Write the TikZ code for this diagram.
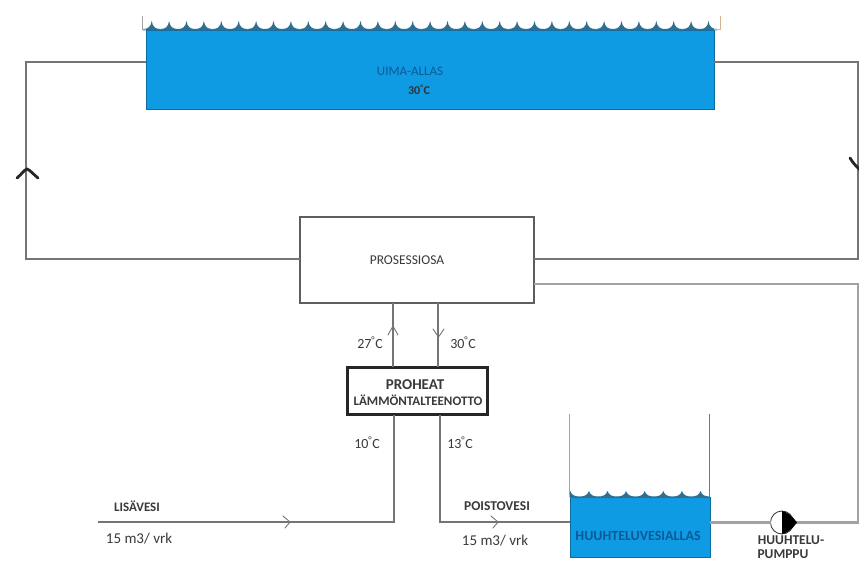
\documentclass[tikz,border=0pt]{standalone}
\usepackage{fontspec}
\setmainfont{Carlito}
\definecolor{wat}{HTML}{0E9BE4}
\definecolor{txt}{HTML}{3A3A3A}
\definecolor{pipe}{HTML}{757575}
\definecolor{pipeb}{HTML}{A2A2A2}
\definecolor{bltxt}{HTML}{0B5A96}
\definecolor{wavec}{HTML}{2F6F93}
\tikzset{
  x=1pt,y=-1pt,
  pipeline/.style={draw=pipe,line width=1.2pt,line join=miter},
  pipelight/.style={draw=pipeb,line width=2.4pt,line join=miter},
  lbl/.style={font=\fontsize{14}{15}\selectfont,text=txt,inner sep=0pt},
  lblb/.style={font=\fontsize{13}{14}\selectfont\bfseries,text=txt,inner sep=0pt},
  chevthin/.style={draw=pipe,line width=0.9pt,line cap=round},
  chevthick/.style={draw=black!85,line width=2.8pt,line cap=round},
  poolbox/.style={fill=wat,draw=wat!70!black,line width=0.7pt,inner sep=0pt,outer sep=0pt},
  plainbox/.style={draw=pipe!80!black,line width=1.2pt,fill=white,inner sep=0pt,outer sep=0pt},
}
\begin{document}
\begin{tikzpicture}
\useasboundingbox (0,0) rectangle (859,561);
\clip (0,0) rectangle (859,561);
\fill[white] (0,0) rectangle (859,561);

% swimming pool
\node[poolbox,anchor=north west,minimum width=568pt,minimum height=79pt] (pool) at (146,30) {};
\node[lbl,font=\fontsize{13}{14}\selectfont,text=bltxt] (pooltext) at (410,71) {UIMA-ALLAS};
\node[lblb,font=\fontsize{12}{13}\selectfont\bfseries,text=black!80] (pooltemp) at (419,90) {30\textsuperscript{°}C};
\foreach \i in {0,...,32}{
  \pgfmathsetmacro{\xa}{143+\i*17.4}
  \pgfmathsetmacro{\xb}{\xa+17.4}
  \fill[wavec] (\xa,30.5) -- (\xa,29) .. controls (\xa+5,29) and (\xa+7.8,27) .. (\xa+8.7,21)
     .. controls (\xa+9.6,27) and (\xb-5,29) .. (\xb,29) -- (\xb,30.5) -- cycle;
}
\draw[draw=pipeb,line width=1pt] (142,16) -- (142,30) -- (146,30);
\draw[draw=brown!60,line width=1pt] (720,16) -- (720,30) -- (714,30);

% process part
\node[plainbox,anchor=north west,minimum width=234pt,minimum height=86pt,font=\fontsize{13.5}{14}\selectfont,text=txt] (proc) at (300,217) {\hspace*{-20pt}PROSESSIOSA};

% heat recovery
\node[draw=black!85,line width=3pt,fill=white,anchor=north west,minimum width=140pt,minimum height=47pt,inner sep=0pt,outer sep=0pt] (heat) at (347.5,367.5) {};
\node[font=\fontsize{15}{16}\selectfont\bfseries,text=txt,inner sep=0pt] (heatA) at (415,385) {PROHEAT};
\node[font=\fontsize{13}{14}\selectfont\bfseries,text=txt,inner sep=0pt] (heatB) at (418,400) {LÄMMÖNTALTEENOTTO};

% rinse basin
\node[poolbox,anchor=north west,minimum width=139.5pt,minimum height=60pt] (basin) at (570.5,497) {};
\foreach \i in {0,...,7}{
  \pgfmathsetmacro{\xa}{570+\i*18.6-9}
  \pgfmathsetmacro{\xb}{\xa+18.6}
  \begin{scope}
  \clip (570,480) rectangle (710,500);
  \fill[wavec] (\xa,498) -- (\xa,496.5) .. controls (\xa+5,496.5) and (\xa+8,495) .. (\xa+9.3,491)
     .. controls (\xa+10.6,495) and (\xb-5,496.5) .. (\xb,496.5) -- (\xb,498) -- cycle;
  \end{scope}
}
\coordinate (wallL) at (569.5,414);
\coordinate (wallR) at (709.5,414);
\coordinate (wallLb) at (569.5,497);
\coordinate (wallRb) at (709.5,497);
\draw[draw=pipeb,line width=1.5pt] (wallL) -- (wallLb);
\draw[draw=pipe,line width=1.5pt] (wallR) -- (wallRb);
\node[font=\fontsize{14}{15}\selectfont\bfseries,text=bltxt,inner sep=0pt] (basintext) at (638,536) {HUUHTELUVESIALLAS};

% pump
\node[circle,draw=black!80,fill=white,line width=0.8pt,minimum size=23pt,inner sep=0pt,outer sep=0pt] (pump) at (782,522.5) {};

% named ends of the connectors
\coordinate (poolL) at (146,62);
\coordinate (poolR) at (714,62);
\coordinate (loopLt) at (26,62);
\coordinate (loopLb) at (26,259);
\coordinate (loopRt) at (858,62);
\coordinate (loopRb) at (858,259);
\coordinate (procW) at (300,259);
\coordinate (procE) at (534,259);
\coordinate (procE2) at (534,284);
\coordinate (rinseTop) at (858,284);
\coordinate (rinseBot) at (858,522.5);
\coordinate (basinR) at (709.5,522.5);
\coordinate (basinL) at (570,522);
\coordinate (procA) at (393,303);
\coordinate (heatA1) at (393,367);
\coordinate (procB) at (438,303);
\coordinate (heatB1) at (438,367);
\coordinate (heatA2) at (394,415);
\coordinate (heatB2) at (440,415);
\coordinate (cornerA) at (394,522);
\coordinate (cornerB) at (440,522);
\coordinate (inlet) at (98,522);

% connectors
\draw[pipeline] (poolL) -- (loopLt) -- (loopLb) -- (procW);
\draw[pipeline] (poolR) -- (loopRt) -- (loopRb) -- (procE);
\draw[pipelight] (procE2) -- (rinseTop) -- (rinseBot) -- (pump.east);
\draw[pipelight] (pump.west) -- (basinR);
\draw[pipeline] (procA) -- (heatA1);
\draw[pipeline] (procB) -- (heatB1);
\draw[pipeline] (heatA2) -- (cornerA) -- (inlet);
\draw[pipeline] (heatB2) -- (cornerB) -- (basinL);

% pump impeller (over the pipe)
\fill[black] (782,511) .. controls (788,512) and (792,516) .. (797,522.5) .. controls (792,529) and (788,533) .. (782,534) -- cycle;

% direction marks
\draw[chevthick] (17,178) .. controls (22,174) and (24,170) .. (27,169) .. controls (30,170) and (33,174) .. (38,178);
\draw[chevthick] (850,158) .. controls (853,163) and (856,166) .. (860,170);
\draw[chevthin] (388,335) -- (393,326) -- (398,335);
\draw[chevthin] (433,329) -- (438.5,337) -- (444,329);
\draw[chevthin] (283,516) -- (290,522) -- (285,528);
\draw[chevthin] (491,516) -- (498,522) -- (493,528);

% labels
\node[lbl] (t27) at (370,343) {27\textsuperscript{°}C};
\node[lbl] (t30) at (463,343) {30\textsuperscript{°}C};
\node[lbl] (t10) at (367,443) {10\textsuperscript{°}C};
\node[lbl] (t13) at (460,443) {13\textsuperscript{°}C};
\node[lblb] (lis) at (137,506) {LISÄVESI};
\node[lbl,font=\fontsize{15}{16}\selectfont] (q1) at (139,539) {15 m3/ vrk};
\node[lblb,font=\fontsize{13.5}{14}\selectfont\bfseries] (poi) at (497,506) {POISTOVESI};
\node[lbl,font=\fontsize{15}{16}\selectfont] (q2) at (495,541) {15 m3/ vrk};
\node[lblb,font=\fontsize{13.5}{14}\selectfont\bfseries] (pu1) at (791,540) {HUUHTELU-};
\node[lblb,font=\fontsize{13.5}{14}\selectfont\bfseries] (pu2) at (783,554) {PUMPPU};
\end{tikzpicture}
\end{document}
